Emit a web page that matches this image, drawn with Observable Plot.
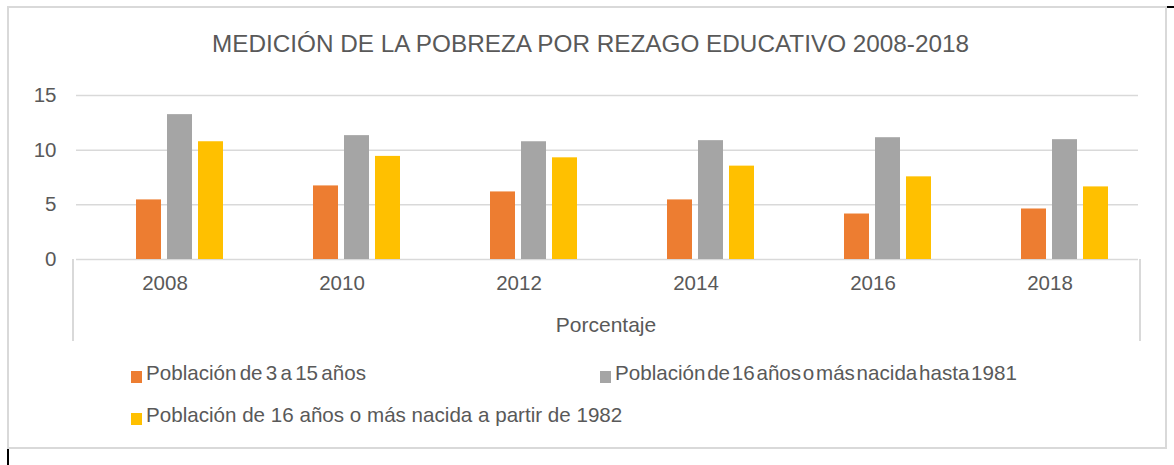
<!DOCTYPE html>
<html>
<head>
<meta charset="utf-8">
<script src="https://cdn.jsdelivr.net/npm/d3@7"></script>
<script src="https://cdn.jsdelivr.net/npm/@observablehq/plot@0.6"></script>
<style>
  html, body { margin: 0; padding: 0; background: #fff; }
  body { width: 1174px; height: 465px; position: relative; overflow: hidden; font-family: "Liberation Sans", Arial, sans-serif; color: #595959; }
  .abs { position: absolute; }
  #frame { left: 7px; top: 6px; width: 1160px; height: 443px; box-sizing: border-box; border: 2px solid #d9d9d9; z-index: 5; }
  #title { left: 0; top: 32px; width: 1181px; text-align: center; font-size: 24.3px; line-height: 24px; white-space: nowrap; }
  #chart { left: 0; top: 80px; }
  #xlabel { left: 506px; width: 200px; top: 315px; text-align: center; font-size: 21px; line-height: 20px; }
  .vline { width: 2px; background: #d9d9d9; top: 259px; height: 82px; }
  .leg { font-size: 20.6px; line-height: 20px; white-space: nowrap; }
  .sw { width: 11px; height: 12px; }
</style>
</head>
<body>
<div id="frame" class="abs"></div>
<div id="title" class="abs">MEDICIÓN DE LA POBREZA POR REZAGO EDUCATIVO 2008-2018</div>
<div id="chart" class="abs"></div>
<div class="abs vline" style="left:72px"></div>
<div class="abs vline" style="left:1139px"></div>
<div id="xlabel" class="abs">Porcentaje</div>
<div id="legend"></div>
<div class="abs" style="left:1165px;top:6px;width:9px;height:2px;background:#000"></div>
<div class="abs" style="left:7px;top:449px;width:2px;height:16px;background:#000"></div>
<script>
const years = ["2008", "2010", "2012", "2014", "2016", "2018"];
const seriesNames = [
  "Población de 3 a 15 años",
  "Población de 16 años o más nacida hasta 1981",
  "Población de 16 años o más nacida a partir de 1982"
];
const valuesA = [5.45, 6.73, 6.18, 5.45, 4.16, 4.62];
const valuesB = [13.25, 11.33, 10.77, 10.87, 11.14, 10.96];
const valuesC = [10.77, 9.43, 9.3, 8.54, 7.56, 6.64];
const colors = ["#ED7D31", "#A5A5A5", "#FFC000"];
const yTicks = [0, 5, 10, 15];

const allValues = [valuesA, valuesB, valuesC];
const data = [];
years.forEach((yr, i) => {
  seriesNames.forEach((s, j) => data.push({year: yr, series: s, value: allValues[j][i]}));
});

const plot = Plot.plot({
  width: 1174,
  height: 270,
  marginLeft: 73,
  marginRight: 34,
  marginTop: 15,
  marginBottom: 91,
  style: {fontFamily: "Liberation Sans, Arial, sans-serif", fontSize: "20.5px", color: "#595959", background: "transparent"},
  fx: {domain: years, padding: 0},
  x: {domain: ["", ...seriesNames], paddingInner: 0.1875, paddingOuter: 0.875, axis: null},
  y: {domain: [0, 15]},
  color: {domain: seriesNames, range: colors},
  marks: [
    Plot.ruleY(yTicks, {stroke: "#d9d9d9", strokeWidth: 1.5}),
    Plot.barY(data, {fx: "year", x: "series", y: "value", fill: "series"}),
    Plot.axisY({ticks: yTicks, tickSize: 0, tickPadding: 20, label: null}),
    Plot.axisFx({anchor: "bottom", tickSize: 0, tickPadding: 16, label: null})
  ]
});
document.getElementById("chart").appendChild(plot);

const legendPos = [
  {x: 131, y: 363, ws: -2.5},
  {x: 600, y: 363, ws: -4},
  {x: 131, y: 405, ws: 0}
];
const legend = document.getElementById("legend");
seriesNames.forEach((s, i) => {
  const p = legendPos[i];
  const sw = document.createElement("div");
  sw.className = "abs sw";
  sw.style.left = p.x + "px";
  sw.style.top = (p.y + 8) + "px";
  sw.style.background = colors[i];
  legend.appendChild(sw);
  const t = document.createElement("div");
  t.className = "abs leg";
  t.style.left = (p.x + 15) + "px";
  t.style.top = p.y + "px";
  t.style.wordSpacing = p.ws + "px";
  t.textContent = s;
  legend.appendChild(t);
});
</script>
</body>
</html>
